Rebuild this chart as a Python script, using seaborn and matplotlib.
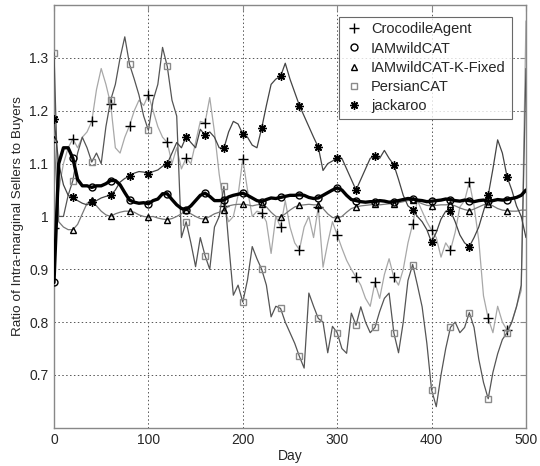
import matplotlib
matplotlib.use('Agg')
import matplotlib.pyplot as plt
from matplotlib.lines import Line2D
import seaborn as sns

# day axis (one reading every 5 days)
days = list(range(0, 501, 5))

crocodile = [0.978, 1.05, 1.10, 1.13, 1.147, 1.13, 1.15, 1.16, 1.18, 1.24,
             1.28, 1.25, 1.213, 1.13, 1.12, 1.15, 1.172, 1.20, 1.22, 1.21,
             1.23, 1.20, 1.17, 1.15, 1.14, 1.10, 1.13, 1.09, 1.111, 1.10,
             1.14, 1.18, 1.177, 1.225, 1.16, 1.08, 1.02, 0.99, 1.00, 1.04,
             1.109, 1.05, 1.00, 1.01, 1.007, 0.99, 0.93, 1.00, 0.98, 1.03,
             0.98, 0.95, 0.937, 0.98, 1.00, 0.96, 1.018, 0.904, 0.95, 0.99,
             0.965, 0.94, 0.917, 0.90, 0.885, 0.87, 0.845, 0.83, 0.875, 0.845,
             0.89, 0.92, 0.885, 0.87, 0.90, 0.95, 0.986, 1.03, 1.01, 0.99,
             0.974, 0.96, 0.923, 0.95, 0.936, 0.97, 1.018, 1.03, 1.065, 1.02,
             0.955, 0.85, 0.807, 0.78, 0.83, 0.80, 0.785, 0.80, 0.83, 0.86,
             1.37]

iamwildcat = [0.875, 1.10, 1.13, 1.13, 1.11, 1.07, 1.058, 1.058, 1.055, 1.058,
              1.058, 1.062, 1.068, 1.068, 1.06, 1.045, 1.031, 1.027, 1.025, 1.026,
              1.024, 1.03, 1.033, 1.043, 1.043, 1.032, 1.022, 1.015, 1.013, 1.02,
              1.03, 1.04, 1.044, 1.038, 1.03, 1.03, 1.031, 1.037, 1.04, 1.042,
              1.044, 1.04, 1.035, 1.03, 1.028, 1.032, 1.035, 1.034, 1.036, 1.038,
              1.04, 1.04, 1.041, 1.04, 1.036, 1.034, 1.035, 1.04, 1.045, 1.05,
              1.054, 1.05, 1.04, 1.032, 1.03, 1.028, 1.027, 1.028, 1.028, 1.03,
              1.029, 1.027, 1.028, 1.03, 1.032, 1.034, 1.033, 1.031, 1.03, 1.028,
              1.029, 1.03, 1.031, 1.033, 1.032, 1.03, 1.029, 1.031, 1.03, 1.028,
              1.03, 1.031, 1.029, 1.03, 1.032, 1.031, 1.032, 1.034, 1.036, 1.04,
              1.05]

kfixed = [1.147, 0.99, 0.98, 0.975, 0.975, 0.985, 1.005, 1.025, 1.031, 1.02,
          1.01, 1.003, 1.0, 1.005, 1.008, 1.01, 1.01, 1.008, 1.003, 1.0,
          0.999, 1.0, 0.997, 0.995, 0.994, 0.996, 1.0, 1.005, 1.013, 1.005,
          1.0, 0.996, 0.995, 1.0, 1.005, 1.008, 1.012, 1.02, 1.022, 1.023,
          1.023, 1.022, 1.02, 1.022, 1.023, 1.018, 1.008, 1.0, 0.999, 1.005,
          1.012, 1.018, 1.021, 1.022, 1.023, 1.022, 1.022, 1.015, 1.005, 0.998,
          0.997, 1.0, 1.008, 1.015, 1.018, 1.02, 1.021, 1.022, 1.023, 1.022,
          1.023, 1.024, 1.024, 1.026, 1.028, 1.03, 1.032, 1.028, 1.024, 1.021,
          1.02, 1.021, 1.022, 1.022, 1.023, 1.02, 1.016, 1.013, 1.011, 1.014,
          1.018, 1.022, 1.024, 1.02, 1.015, 1.012, 1.011, 1.01, 1.01, 1.012,
          1.012]

persiancat = [1.31, 1.0, 1.0, 1.04, 1.068, 1.12, 1.15, 1.13, 1.103, 1.12,
              1.10, 1.17, 1.22, 1.25, 1.30, 1.34, 1.288, 1.26, 1.23, 1.19,
              1.163, 1.22, 1.25, 1.32, 1.284, 1.22, 1.19, 0.96, 0.99, 0.95,
              0.905, 0.96, 0.926, 0.90, 0.98, 1.0, 1.057, 0.95, 0.851, 0.87,
              0.838, 0.88, 0.943, 0.92, 0.9, 0.87, 0.81, 0.83, 0.826, 0.80,
              0.78, 0.76, 0.735, 0.713, 0.855, 0.83, 0.807, 0.80, 0.742, 0.792,
              0.78, 0.75, 0.741, 0.817, 0.794, 0.829, 0.80, 0.78, 0.79, 0.82,
              0.845, 0.855, 0.78, 0.742, 0.80, 0.879, 0.909, 0.87, 0.829, 0.76,
              0.672, 0.64, 0.70, 0.75, 0.79, 0.80, 0.78, 0.79, 0.818, 0.79,
              0.73, 0.686, 0.655, 0.705, 0.74, 0.767, 0.78, 0.80, 0.829, 0.87,
              1.28]

jackaroo = [1.185, 1.10, 1.06, 1.04, 1.036, 1.03, 1.025, 1.022, 1.027, 1.03,
            1.035, 1.038, 1.04, 1.05, 1.065, 1.072, 1.076, 1.082, 1.085, 1.084,
            1.081, 1.085, 1.088, 1.095, 1.10, 1.12, 1.14, 1.13, 1.151, 1.14,
            1.13, 1.165, 1.154, 1.16, 1.15, 1.13, 1.129, 1.16, 1.18, 1.175,
            1.156, 1.15, 1.135, 1.13, 1.167, 1.21, 1.25, 1.26, 1.265, 1.29,
            1.26, 1.235, 1.21, 1.19, 1.17, 1.15, 1.131, 1.087, 1.10, 1.105,
            1.111, 1.11, 1.09, 1.07, 1.05, 1.07, 1.09, 1.11, 1.115, 1.11,
            1.125, 1.11, 1.098, 1.07, 1.04, 1.02, 1.013, 1.0, 0.99, 0.975,
            0.951, 0.97, 0.995, 1.01, 1.011, 0.99, 0.965, 0.95, 0.943, 0.96,
            0.98, 1.01, 1.04, 1.09, 1.145, 1.12, 1.075, 1.05, 1.02, 1.0,
            0.96]

labels = ['CrocodileAgent', 'IAMwildCAT', 'IAMwildCAT-K-Fixed', 'PersianCAT', 'jackaroo']

sns.set_style('white')
plt.rcParams['font.family'] = ['Liberation Sans', 'DejaVu Sans']

fig = plt.figure(figsize=(5.4, 4.66), dpi=100)
ax = fig.add_axes([0.1, 0.082, 0.874, 0.907])

star = (8, 2, 0)
styles = [
    # series, line colour, width, marker, marker edge, marker size, zorder
    (crocodile, '#a8a8a8', 0.9, '+', 'black', 7, 2),
    (iamwildcat, 'black', 2.4, 'o', 'black', 5, 6),
    (kfixed, '#777777', 0.9, '^', 'black', 5, 4),
    (persiancat, '#555555', 0.9, 's', '#8a8a8a', 5, 3),
    (jackaroo, '#444444', 0.9, star, 'black', 6, 5),
]

# a marker every 20 days, none on the last day
marks = slice(0, 100, 4)
for vals, col, lw, mk, mec, ms, z in styles:
    sns.lineplot(x=days, y=vals, ax=ax, color=col, linewidth=lw, marker=mk,
                 markevery=marks, markersize=ms, markerfacecolor='none',
                 markeredgecolor=mec, markeredgewidth=1.0, zorder=z,
                 errorbar=None, legend=False)

ax.set_xlim(0, 500)
ax.set_ylim(0.6, 1.4)
ax.set_xticks([0, 100, 200, 300, 400, 500])
ax.set_yticks([0.7, 0.8, 0.9, 1.0, 1.1, 1.2, 1.3])
ax.set_yticklabels(['0.7', '0.8', '0.9', '1', '1.1', '1.2', '1.3'])
ax.tick_params(direction='in', top=True, right=True, labelsize=10, length=4,
               color='#888888', pad=4)
ax.grid(True, linestyle=(0, (1.5, 2.5)), color='#555555', linewidth=0.7)
for s in ax.spines.values():
    s.set_color('#888888')
    s.set_linewidth(1.0)

ax.set_xlabel('Day', fontsize=10, labelpad=1)
ax.set_ylabel('Ratio of Intra-marginal Sellers to Buyers', fontsize=9.7, labelpad=4)

handles = []
for (vals, col, lw, mk, mec, ms, z), lab in zip(styles, labels):
    handles.append(Line2D([], [], linestyle='none', marker=mk, markersize=ms,
                          markerfacecolor='none', markeredgecolor=mec,
                          markeredgewidth=1.0, label=lab))
leg = ax.legend(handles=handles, loc='upper right', bbox_to_anchor=(0.985, 0.99),
                fontsize=10.5, frameon=True, fancybox=False, handlelength=1.2,
                handletextpad=0.6, labelspacing=0.35, borderpad=0.4)
leg.get_frame().set_edgecolor('#444444')
leg.get_frame().set_linewidth(0.8)
leg.set_zorder(10)

plt.savefig('out.png', dpi=100)
